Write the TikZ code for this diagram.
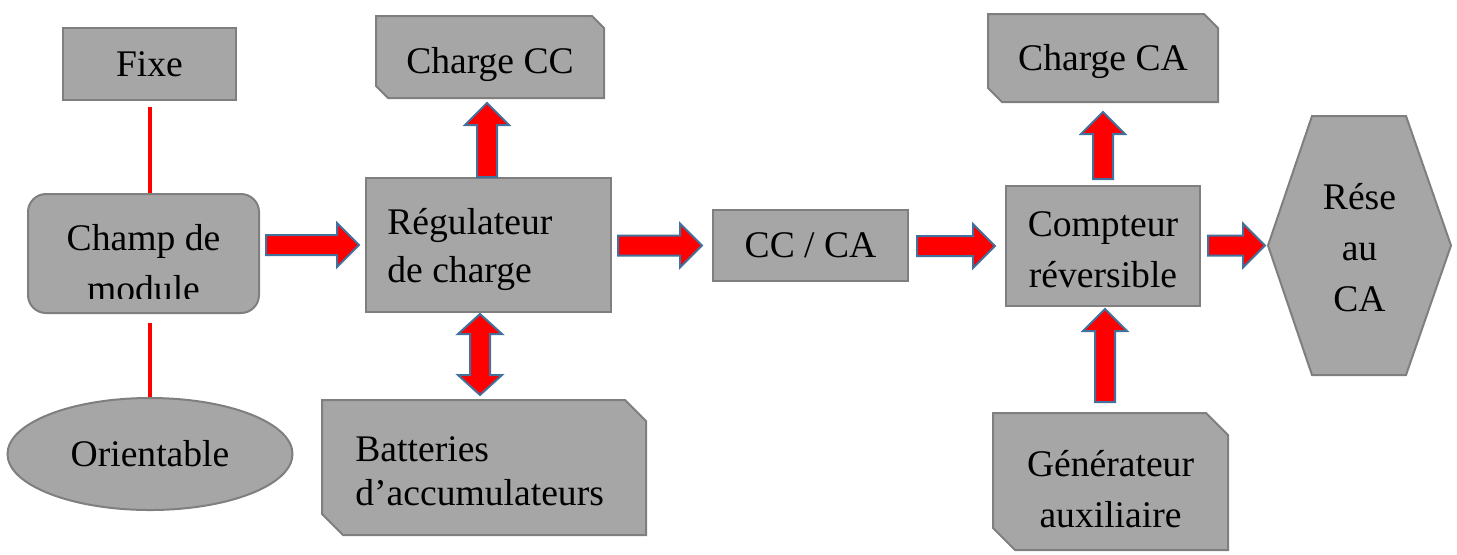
\documentclass[tikz,border=0pt]{standalone}
\usepackage{fontspec}
\setmainfont{Liberation Serif}
\usetikzlibrary{shapes.geometric,calc,backgrounds}

\definecolor{boxgray}{HTML}{A6A6A6}
\definecolor{edgegray}{HTML}{7F7F7F}
\definecolor{arrowblue}{HTML}{41719C}

\tikzset{
  boxtext/.style={font=\fontsize{18.8}{25.5}\selectfont, align=center, inner sep=0pt},
  box/.style={boxtext, draw=edgegray, fill=boxgray, line width=1pt},
  snipbox/.style={boxtext, outer sep=0pt},
  hexline/.style={draw=edgegray, fill=boxgray, line width=1pt},
  link/.style={draw=red, line width=2pt},
  blockarrow/.style={fill=red, draw=arrowblue, line width=1pt, line join=miter},
}

% box with cut corners (north east, south west) behind node #1
\newcommand{\snipoutline}[2]{%
  \begin{scope}[on background layer]
    \filldraw[hexline] (#1.north west) -- ([xshift=-#2]#1.north east) -- ([yshift=-#2]#1.north east)
      -- (#1.south east) -- ([xshift=#2]#1.south west) -- ([yshift=#2]#1.south west) -- cycle;
  \end{scope}}

% block arrows: start point, tip point
\newcommand{\harrowbox}[2]{%
  \path[blockarrow] let \p1=(#1), \p2=(#2) in
    (\x1,\y2+5pt) -- (\x2-11pt,\y2+5pt) -- (\x2-11pt,\y2+11pt) -- (\x2,\y2)
    -- (\x2-11pt,\y2-11pt) -- (\x2-11pt,\y2-5pt) -- (\x1,\y2-5pt) -- cycle;}
\newcommand{\varrowbox}[2]{%
  \path[blockarrow] let \p1=(#1), \p2=(#2) in
    (\x1-5pt,\y1) -- (\x1-5pt,\y2-11pt) -- (\x1-11pt,\y2-11pt) -- (\x1,\y2)
    -- (\x1+11pt,\y2-11pt) -- (\x1+5pt,\y2-11pt) -- (\x1+5pt,\y1) -- cycle;}
\newcommand{\dvarrowbox}[2]{%
  \path[blockarrow] let \p1=(#1), \p2=(#2) in
    (\x1,\y1) -- (\x1+11pt,\y1-10pt) -- (\x1+5pt,\y1-10pt) -- (\x1+5pt,\y2+10pt)
    -- (\x1+11pt,\y2+10pt) -- (\x1,\y2) -- (\x1-11pt,\y2+10pt) -- (\x1-5pt,\y2+10pt)
    -- (\x1-5pt,\y1-10pt) -- (\x1-11pt,\y1-10pt) -- cycle;}

\begin{document}
\begin{tikzpicture}[x=0.5pt,y=-0.5pt]
  \useasboundingbox (0,0) rectangle (1457,554);

  % left column
  \node[box, minimum width=86.5pt, minimum height=36pt] (fixe) at (149.5,64) {Fixe};
  \node[box, rounded corners=9pt, minimum width=115.5pt, minimum height=59.5pt] (champ) at (143.5,253.5) {};
  \begin{scope}
    \clip (champ.north west) rectangle ([yshift=8pt]champ.south east);
    \node[boxtext] (champtxt) at ([yshift=-5pt]champ.center) {Champ de\\module};
  \end{scope}
  \node[box, ellipse, minimum width=142.5pt, minimum height=56pt] (orient) at (150,454) {Orientable};

  \draw[link] ([yshift=-3pt]fixe.south) -- (fixe.south |- champ.north);
  \draw[link] (orient.north |- champ.south) ++(0,9) -- (orient.north);

  % regulator and DC side
  \node[box, minimum width=122.5pt, minimum height=67pt] (reg) at (488.5,245) {};
  \node[boxtext, anchor=west, align=left, font=\fontsize{18.8}{24}\selectfont] (regtxt)
    at ([xshift=11pt,yshift=-2pt]reg.west) {Régulateur\\de charge};
  \node[snipbox, minimum width=114pt, minimum height=41pt, text height=20pt, text depth=4pt] (chcc)
    at (490,57) {Charge CC};
  \snipoutline{chcc}{6pt}
  \node[snipbox, minimum width=162pt, minimum height=67.5pt] (batt) at (484,467.5) {};
  \snipoutline{batt}{10.5pt}
  \node[boxtext, anchor=west, align=left, font=\fontsize{18.8}{22}\selectfont] (batttxt)
    at ([xshift=16.5pt,yshift=-2pt]batt.west) {Batteries\\d’accumulateurs};
  \node[box, minimum width=97.5pt, minimum height=35.5pt] (ccca) at (810.5,245.5) {CC / CA};

  % AC side
  \node[box, minimum width=97pt, minimum height=60pt] (comp) at (1103,246) {};
  \node[boxtext] (comptxt) at ([yshift=-2pt]comp.center) {Compteur\\réversible};
  \node[snipbox, minimum width=115pt, minimum height=44pt, text height=16pt, text depth=4pt] (chca)
    at (1103,58) {Charge CA};
  \snipoutline{chca}{7pt}
  \node[snipbox, minimum width=117.5pt, minimum height=68.5pt] (gen) at (1110.5,481.5) {};
  \snipoutline{gen}{11pt}
  \node[boxtext] (gentxt) at ([yshift=-4pt]gen.center) {Générateur\\auxiliaire};
  \node[minimum width=91.5pt, minimum height=129.5pt, inner sep=0pt, outer sep=0pt] (res) at (1359.5,245.5) {};
  \filldraw[hexline] (res.west) -- ([xshift=22pt]res.north west) -- ([xshift=-22.5pt]res.north east)
    -- (res.east) -- ([xshift=-22.5pt]res.south east) -- ([xshift=22pt]res.south west) -- cycle;
  \node[boxtext] (restxt) at ([yshift=-1pt]res.center) {Rése\\au\\CA};

  % arrows
  \harrowbox{[xshift=3pt]champ.east}{[xshift=-3pt]reg.west}
  \harrowbox{[xshift=3pt]reg.east}{[xshift=-5pt]ccca.west}
  \harrowbox{[xshift=4pt]ccca.east}{[xshift=-5pt]comp.west}
  \harrowbox{[xshift=3.5pt]comp.east}{[xshift=-1.5pt]res.west}
  \varrowbox{[xshift=-0.75pt]reg.north}{[yshift=-2.5pt]chcc.south}
  \dvarrowbox{[xshift=-4.25pt,yshift=-0.5pt]reg.south}{[yshift=2.5pt]batt.north}
  \varrowbox{[yshift=3pt]comp.north}{[yshift=-5pt]chca.south}
  \varrowbox{[xshift=-2.75pt,yshift=5.5pt]gen.north}{[yshift=-1pt]comp.south}
\end{tikzpicture}
\end{document}
